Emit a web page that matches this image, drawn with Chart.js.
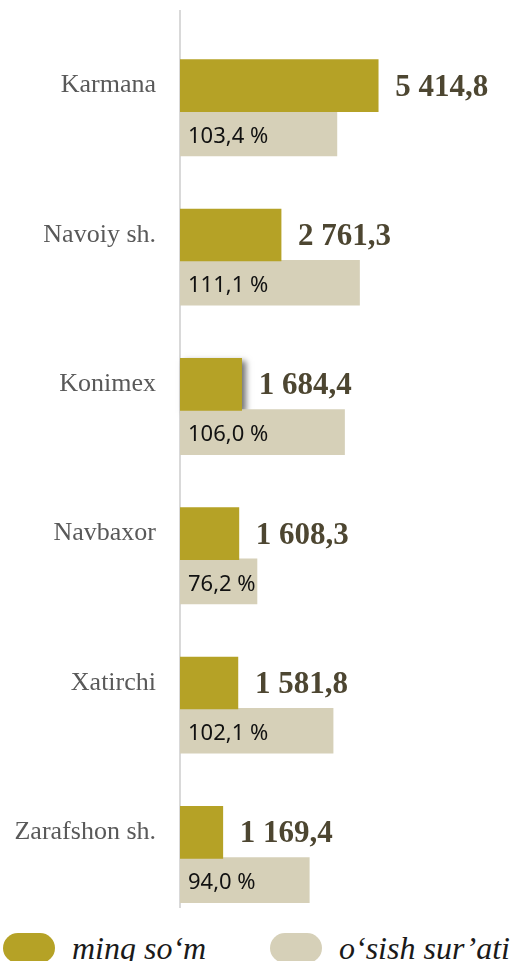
<!DOCTYPE html>
<html>
<head>
<meta charset="utf-8">
<script src="https://cdn.jsdelivr.net/npm/chart.js@4.4.0/dist/chart.umd.min.js"></script>
<style>
  body { margin: 0; background: #fff; overflow: hidden; width: 512px; height: 961px; position: relative; }
  #wrap { position: absolute; left: 0; top: 0; width: 512px; height: 925px; }
  #legend { position: absolute; left: 0; top: 933px; width: 512px; height: 40px; }
  .item { position: absolute; top: 0; display: flex; align-items: flex-start; }
  .pill { width: 52px; height: 30px; border-radius: 15px; }
  .txt { font-family: "Liberation Serif", serif; font-style: italic; font-size: 32px; color: #1a1a1a; margin-left: 17px; line-height: 30px; white-space: nowrap; }
</style>
</head>
<body>
<div id="wrap"><canvas id="bar-chart" width="512" height="925"></canvas></div>
<div id="legend"></div>
<script>
// districts, top to bottom
var categories = ["Karmana", "Navoiy sh.", "Konimex", "Navbaxor", "Xatirchi", "Zarafshon sh."];
// ming so'm
var volume = [5414.8, 2761.3, 1684.4, 1608.3, 1581.8, 1169.4];
// o'sish sur'ati, %
var growth = [103.4, 111.1, 106.0, 76.2, 102.1, 94.0];
var seriesNames = ["ming so\u2018m", "o\u2018sish sur\u2019ati"];

var OLIVE = "#b5a226";
var SAND = "#d6d0b8";
var GREY_SHIFT = 0.32; // second bar hangs below the first one
var GROWTH_MIN = 50;   // growth axis does not start at zero

function fmt(v) {
  var p = v.toFixed(1).split(".");
  return p[0].replace(/\B(?=(\d{3})+(?!\d))/g, " ") + "," + p[1];
}

var labelsPlugin = {
  id: "barLabels",
  beforeDatasetsDraw: function(chart) {
    // shadow behind the Konimex bar
    var el = chart.getDatasetMeta(0).data[2];
    if (!el) return;
    var ctx = chart.ctx;
    ctx.save();
    ctx.shadowColor = "rgba(0,0,0,0.55)";
    ctx.shadowBlur = 6;
    ctx.shadowOffsetX = 4;
    ctx.shadowOffsetY = 3;
    ctx.fillStyle = OLIVE;
    ctx.fillRect(el.base, el.y - el.height / 2, el.x - el.base, el.height);
    ctx.restore();
  },
  afterDatasetsDraw: function(chart) {
    var ctx = chart.ctx;
    ctx.save();
    ctx.textBaseline = "middle";
    ctx.textAlign = "left";
    chart.getDatasetMeta(0).data.forEach(function(el, i) {
      ctx.font = "bold 31px 'Liberation Serif', serif";
      ctx.fillStyle = "#4d4631";
      ctx.fillText(fmt(volume[i]), el.x + 17, el.y + 2);
    });
    chart.getDatasetMeta(1).data.forEach(function(el, i) {
      ctx.font = "22px 'Noto Sans', sans-serif";
      ctx.fillStyle = "#111";
      ctx.fillText(fmt(growth[i]) + " %", el.base + 8, el.y + 3);
    });
    ctx.restore();
  }
};

var chart = new Chart(document.getElementById("bar-chart"), {
  type: "bar",
  data: {
    datasets: [
      {
        label: seriesNames[0],
        backgroundColor: OLIVE,
        barThickness: 52,
        xAxisID: "x",
        data: volume.map(function(v, i) { return { x: v, y: i }; })
      },
      {
        label: seriesNames[1],
        backgroundColor: SAND,
        barThickness: 45,
        base: GROWTH_MIN,
        xAxisID: "x2",
        data: growth.map(function(v, i) { return { x: v, y: i + GREY_SHIFT }; })
      }
    ]
  },
  options: {
    indexAxis: "y",
    responsive: false,
    animation: false,
    grouped: false,
    layout: { padding: { top: 11, bottom: 18, left: 8, right: 0 } },
    plugins: { legend: { display: false }, tooltip: { enabled: false } },
    scales: {
      y: {
        type: "linear",
        reverse: true,
        offset: false,
        min: -0.5,
        max: 5.5,
        afterBuildTicks: function(axis) {
          axis.ticks = categories.map(function(c, i) { return { value: i }; });
        },
        afterFit: function(axis) {
          axis.width = 172;
          axis.paddingTop = 0;
          axis.paddingBottom = 0;
        },
        ticks: {
          padding: 24,
          color: "#595959",
          font: { family: "'Liberation Serif', serif", size: 26 },
          callback: function(v) { return categories[v]; }
        },
        grid: { display: false, drawTicks: false },
        border: { color: "#d9d9d9", width: 2 }
      },
      x: { display: false, min: 0, max: 9070 },
      x2: { display: false, position: "top", min: GROWTH_MIN, max: 163 }
    }
  },
  plugins: [labelsPlugin]
});

// legend
var lg = document.getElementById("legend");
var lefts = [3, 270];
chart.data.datasets.forEach(function(ds, i) {
  var it = document.createElement("div");
  it.className = "item";
  it.style.left = lefts[i] + "px";
  it.innerHTML = '<div class="pill" style="background:' + ds.backgroundColor + '"></div><span class="txt">' + ds.label + '</span>';
  lg.appendChild(it);
});
</script>
</body>
</html>
